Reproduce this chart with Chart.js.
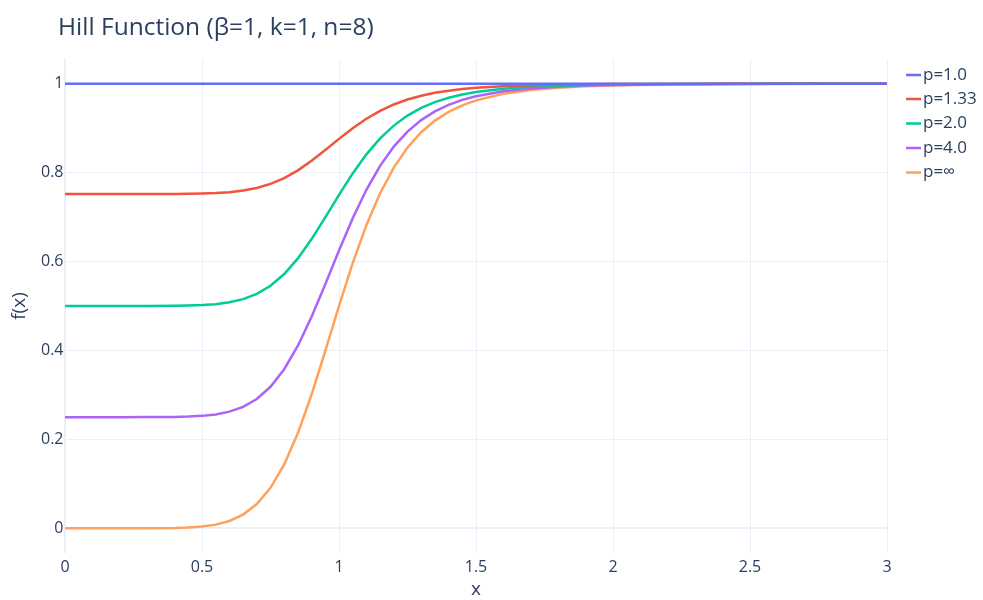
<!DOCTYPE html>
<html>
<head>
<meta charset="utf-8">
<script src="https://cdn.jsdelivr.net/npm/chart.js@4.4.1/dist/chart.umd.min.js"></script>
<style>
  html, body { margin: 0; padding: 0; background: #fff; }
  #wrap { width: 983px; height: 600px; position: relative; }
</style>
</head>
<body>
<div id="wrap"><canvas id="c" width="983" height="600"></canvas></div>
<script>
const xValues = [0, 0.1, 0.2, 0.3, 0.4, 0.45, 0.5, 0.55, 0.6, 0.65, 0.7, 0.75, 0.8, 0.85, 0.9, 0.95, 1.0, 1.05, 1.1, 1.15, 1.2, 1.25, 1.3, 1.35, 1.4, 1.45, 1.5, 1.6, 1.7, 1.8, 1.9, 2.0, 2.2, 2.4, 2.6, 2.8, 3.0];

const seriesNames = ["p=1.0", "p=1.33", "p=2.0", "p=4.0", "p=\u221e"];

const p1 = [1, 1, 1, 1, 1, 1, 1, 1, 1, 1, 1, 1, 1, 1, 1, 1, 1, 1, 1, 1, 1, 1, 1, 1, 1, 1, 1, 1, 1, 1, 1, 1, 1, 1, 1, 1, 1];
const p133 = [0.7519, 0.7519, 0.7519, 0.7519, 0.7521, 0.7523, 0.7529, 0.7540, 0.7560, 0.7596, 0.7654, 0.7745, 0.7875, 0.8050, 0.8266, 0.8508, 0.8759, 0.8999, 0.9211, 0.9389, 0.9532, 0.9643, 0.9729, 0.9794, 0.9842, 0.9879, 0.9907, 0.9944, 0.9965, 0.9978, 0.9986, 0.9990, 0.9995, 0.9998, 0.9999, 0.9999, 1.0];
const p2 = [0.5, 0.5, 0.5, 0.5, 0.5003, 0.5009, 0.502, 0.5042, 0.5083, 0.5155, 0.5273, 0.5455, 0.5719, 0.6071, 0.6505, 0.6994, 0.75, 0.7982, 0.8410, 0.8768, 0.9057, 0.9282, 0.9454, 0.9585, 0.9683, 0.9757, 0.9813, 0.9887, 0.9930, 0.9955, 0.9971, 0.9981, 0.9991, 0.9995, 0.9998, 0.9999, 0.9999];
const p4 = [0.25, 0.25, 0.25, 0.2501, 0.2505, 0.2513, 0.2529, 0.2562, 0.2624, 0.2732, 0.2909, 0.3183, 0.3578, 0.4106, 0.4757, 0.5491, 0.625, 0.6973, 0.7614, 0.8152, 0.8585, 0.8922, 0.9181, 0.9377, 0.9524, 0.9635, 0.9719, 0.9830, 0.9894, 0.9933, 0.9957, 0.9971, 0.9987, 0.9993, 0.9996, 0.9998, 0.9999];
const pInf = [0, 0, 0.000003, 0.00007, 0.00065, 0.0017, 0.0039, 0.0083, 0.0165, 0.0309, 0.0545, 0.0910, 0.1437, 0.2141, 0.3009, 0.3988, 0.5, 0.5964, 0.6819, 0.7536, 0.8113, 0.8563, 0.8908, 0.9169, 0.9365, 0.9513, 0.9625, 0.9773, 0.9859, 0.9910, 0.9942, 0.9961, 0.9982, 0.9991, 0.9995, 0.9997, 0.9999];

const xTicks = [0, 0.5, 1, 1.5, 2, 2.5, 3];
const yTicks = [0, 0.2, 0.4, 0.6, 0.8, 1];

const titleText = "Hill Function (\u03b2=1, k=1, n=8)";
const xTitle = "x";
const yTitle = "f(x)";

const colors = ["#636efa", "#EF553B", "#00cc96", "#ab63fa", "#FFA15A"];
const FONT = "'Open Sans', 'Noto Sans', sans-serif";
const TXT = "#2a3f5f";
const GRID = "#EBF0F8";

const allSeries = [p1, p133, p2, p4, pInf];
const datasets = allSeries.map((arr, i) => ({
  label: seriesNames[i],
  data: arr.map((y, j) => ({x: xValues[j], y: y})),
  borderColor: colors[i],
  backgroundColor: colors[i],
  borderWidth: 2.5,
  pointRadius: 0,
  tension: 0,
  fill: false
}));

const overlay = {
  id: 'overlay',
  afterDraw(chart) {
    const ctx = chart.ctx;
    const ca = chart.chartArea;
    ctx.save();
    ctx.fillStyle = TXT;
    // Title
    ctx.font = "24.5px " + FONT;
    ctx.textAlign = "left";
    ctx.textBaseline = "alphabetic";
    ctx.fillText(titleText, 58, 35);
    // x axis title
    ctx.font = "19px " + FONT;
    ctx.textAlign = "center";
    ctx.textBaseline = "middle";
    ctx.fillText(xTitle, (ca.left + ca.right) / 2, 590);
    // y axis title
    ctx.save();
    ctx.translate(20, (ca.top + ca.bottom) / 2);
    ctx.rotate(-Math.PI / 2);
    ctx.fillText(yTitle, 0, 0);
    ctx.restore();
    // Legend
    ctx.font = "17px " + FONT;
    ctx.textAlign = "left";
    ctx.textBaseline = "middle";
    const ys = [75, 99, 123.5, 148, 172.5];
    seriesNames.forEach((name, i) => {
      ctx.strokeStyle = colors[i];
      ctx.lineWidth = 2.5;
      ctx.beginPath();
      ctx.moveTo(906, ys[i]);
      ctx.lineTo(921, ys[i]);
      ctx.stroke();
      ctx.fillStyle = TXT;
      ctx.fillText(name, 923, ys[i]);
    });
    ctx.restore();
  }
};

new Chart(document.getElementById('c'), {
  type: 'line',
  data: { datasets },
  options: {
    responsive: false,
    animation: false,
    devicePixelRatio: 1,
    layout: { padding: { left: 0, right: 96, top: 59, bottom: 0 } },
    plugins: { legend: { display: false }, tooltip: { enabled: false }, title: { display: false } },
    scales: {
      x: {
        type: 'linear',
        min: 0, max: 3,
        afterBuildTicks: (axis) => { axis.ticks = xTicks.map(v => ({value: v})); },
        afterFit: (axis) => { axis.height = 47; },
        grid: {
          color: GRID,
          lineWidth: (c) => (c.tick && c.tick.value === 0 ? 2 : 1),
          drawTicks: false
        },
        border: { display: false },
        ticks: {
          color: TXT,
          font: { family: FONT, size: 16 },
          padding: 5,
          maxRotation: 0,
          autoSkip: false,
          callback: (v) => String(v)
        }
      },
      y: {
        type: 'linear',
        min: -0.0555, max: 1.0555,
        afterBuildTicks: (axis) => { axis.ticks = yTicks.map(v => ({value: v})); },
        afterFit: (axis) => { axis.width = 65; },
        grid: {
          color: GRID,
          lineWidth: (c) => (c.tick && c.tick.value === 0 ? 2 : 1),
          drawTicks: false
        },
        border: { display: false },
        ticks: {
          color: TXT,
          font: { family: FONT, size: 16 },
          padding: 1.5,
          autoSkip: false,
          callback: (v) => String(v)
        }
      }
    }
  },
  plugins: [overlay]
});
</script>
</body>
</html>
